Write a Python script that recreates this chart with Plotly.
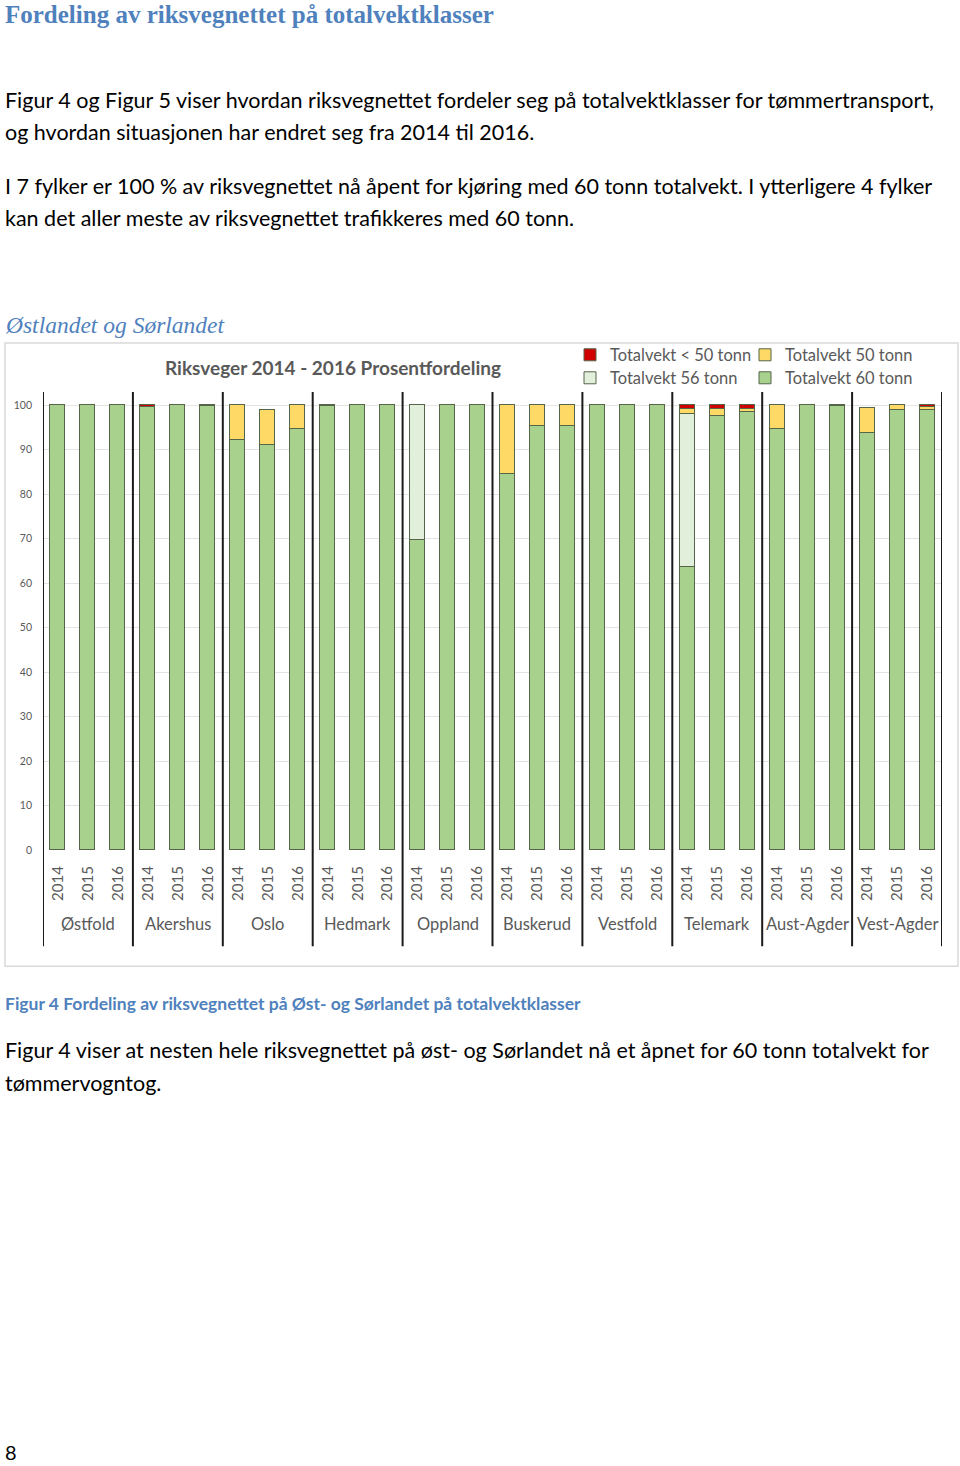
import plotly.graph_objects as go

W, H = 960, 1466
SY = 1.0043  # small vertical correction of the photographed page

# ---------------- data ----------------
groups = ["Østfold", "Akershus", "Oslo", "Hedmark", "Oppland", "Buskerud",
          "Vestfold", "Telemark", "Aust-Agder", "Vest-Agder"]
years = ["2014", "2015", "2016"]

t60 = [100, 100, 100, 99.6, 100, 99.7, 92.1, 91.0, 94.6, 99.7, 100, 100,
       69.7, 100, 100, 84.6, 95.3, 95.2, 100, 100, 100, 63.6, 97.5, 98.5,
       94.6, 100, 99.7, 93.6, 98.8, 98.8]
t56 = [0, 0, 0, 0, 0, 0.3, 0, 0, 0, 0, 0, 0,
       30.3, 0, 0, 0, 0, 0, 0, 0, 0, 34.4, 0, 0,
       0, 0, 0, 0, 0, 0]
t50 = [0, 0, 0, 0, 0, 0, 7.9, 7.9, 5.4, 0, 0, 0,
       0, 0, 0, 15.4, 4.7, 4.8, 0, 0, 0, 1.0, 1.6, 0.6,
       5.4, 0, 0.3, 5.8, 1.2, 0.8]
tlt50 = [0, 0, 0, 0.4, 0, 0, 0, 0, 0, 0.3, 0, 0,
         0, 0, 0, 0, 0, 0, 0, 0, 0, 1.0, 0.9, 0.9,
         0, 0, 0, 0, 0, 0.4]

series_names = ["Totalvekt 60 tonn", "Totalvekt 56 tonn",
                "Totalvekt 50 tonn", "Totalvekt < 50 tonn"]
series_colors = ["#A9D18E", "#E2EFDA", "#FFD966", "#D00000"]

yticks = [0, 10, 20, 30, 40, 50, 60, 70, 80, 90, 100]

# ---------------- helpers ----------------
def px(x):
    return x / W


def py(y):
    return 1 - y * SY / H


n = len(groups) * len(years)
xs = list(range(n))
year_labels = [years[i % 3] for i in xs]

fig = go.Figure()

legend_ids = ["legend4", "legend2", "legend3", "legend"]
for vals, name, color, lg in zip([t60, t56, t50, tlt50], series_names,
                                 series_colors, legend_ids):
    fig.add_trace(go.Bar(
        x=xs, y=[v if v else None for v in vals], name=name,
        marker=dict(color=color, line=dict(color="#55654a", width=1)),
        width=0.5, legend=lg,
    ))

# plot geometry (pixels)
X0, X1 = 43, 942
Y0, YTOP = 850, 392
ppu = 4.45  # px per percent
ymax = (Y0 - YTOP) / ppu

GRAY = "#595959"
TXT = "#000000"
BLUE = "#4F81BD"
BODY = "Lato"

fig.update_layout(
    width=W, height=H, margin=dict(l=0, r=0, t=0, b=0),
    paper_bgcolor="white", plot_bgcolor="white",
    barmode="stack", bargap=0,
    font=dict(family=BODY, color=GRAY),
    xaxis=dict(domain=[px(X0), px(X1)], range=[-0.5, n - 0.5],
               tickmode="array", tickvals=xs, ticktext=year_labels,
               tickangle=-90, tickfont=dict(size=15, color=GRAY, family=BODY),
               showgrid=False, zeroline=False, showline=False, ticks="",
               ticklabelstandoff=12),
    yaxis=dict(domain=[py(Y0), py(YTOP)], range=[0, ymax],
               tickmode="array", tickvals=yticks,
               tickfont=dict(size=10.5, color=GRAY, family=BODY),
               showgrid=True, gridcolor="#E3E3E3", gridwidth=1,
               zeroline=False, showline=False, ticks="",
               ticklabelstandoff=10),
    showlegend=True,
)

# legends: 2 x 2 grid
leg_pos = {"legend": (570, 355), "legend2": (570, 378),
           "legend3": (745, 355), "legend4": (745, 378)}
for k, (lx, ly) in leg_pos.items():
    fig.update_layout(**{k: dict(x=px(lx), y=py(ly), xanchor="left",
                                 yanchor="middle", bgcolor="rgba(0,0,0,0)",
                                 font=dict(size=16.5, color=GRAY, family=BODY),
                                 itemwidth=30)})

# chart border
fig.add_shape(type="rect", xref="paper", yref="paper",
              x0=px(5), x1=px(958), y0=py(966), y1=py(343),
              line=dict(color="#D9D9D9", width=1.5), layer="below")

# group dividers
for g in range(len(groups) + 1):
    xv = g * 3 - 0.5
    fig.add_shape(type="line", xref="x", yref="paper", x0=xv, x1=xv,
                  y0=py(946), y1=py(YTOP), line=dict(color="#1a1a1a", width=2))

# group labels
for g, name in enumerate(groups):
    fig.add_annotation(x=g * 3 + 1, y=py(924), xref="x", yref="paper",
                       text=name, showarrow=False, xanchor="center",
                       yanchor="middle",
                       font=dict(size=16.5, color=GRAY, family=BODY))

# chart title
fig.add_annotation(x=px(163), y=py(367), xref="paper", yref="paper",
                   text="<b>Riksveger 2014 - 2016 Prosentfordeling</b>",
                   showarrow=False, xanchor="left", yanchor="middle",
                   font=dict(size=19, color=GRAY, family=BODY))


def text(x, y, s, size, color=TXT, family=BODY):
    fig.add_annotation(x=px(x), y=py(y), xref="paper", yref="paper", text=s,
                       showarrow=False, xanchor="left", yanchor="middle",
                       font=dict(size=size, color=color, family=family))


text(3, 14, "<b>Fordeling av riksvegnettet på totalvektklasser</b>", 25,
     BLUE, "Liberation Serif")
text(3, 100, "Figur 4 og Figur 5 viser hvordan riksvegnettet fordeler seg på "
     "totalvektklasser for tømmertransport,", 21.5)
text(3, 132, "og hvordan situasjonen har endret seg fra 2014 til 2016.", 21.5)
text(3, 186, "I 7 fylker er 100 % av riksvegnettet nå åpent for kjøring med "
     "60 tonn totalvekt. I ytterligere 4 fylker", 21.5)
text(3, 218, "kan det aller meste av riksvegnettet trafikkeres med 60 tonn.",
     21.5)
text(3, 325, "<i>Østlandet og Sørlandet</i>", 23.5, BLUE, "Liberation Serif")
text(3, 1003, "<b>Figur 4 Fordeling av riksvegnettet på Øst- og Sørlandet på "
     "totalvektklasser</b>", 17.5, BLUE)
text(3, 1050, "Figur 4 viser at nesten hele riksvegnettet på øst- og Sørlandet "
     "nå et åpnet for 60 tonn totalvekt for", 21.5)
text(3, 1083, "tømmervogntog.", 21.5)
text(3, 1452, "8", 20)

fig.write_html(
    "out.html",
    config={"displayModeBar": False},
    post_script=(
        "document.documentElement.style.margin='0';"
        "document.body.style.margin='0';"
        "document.body.style.overflow='hidden';"
        "var d=document.getElementById('{plot_id}');"
        "d.style.position='fixed';d.style.top='0px';d.style.left='0px';"
    ),
)
